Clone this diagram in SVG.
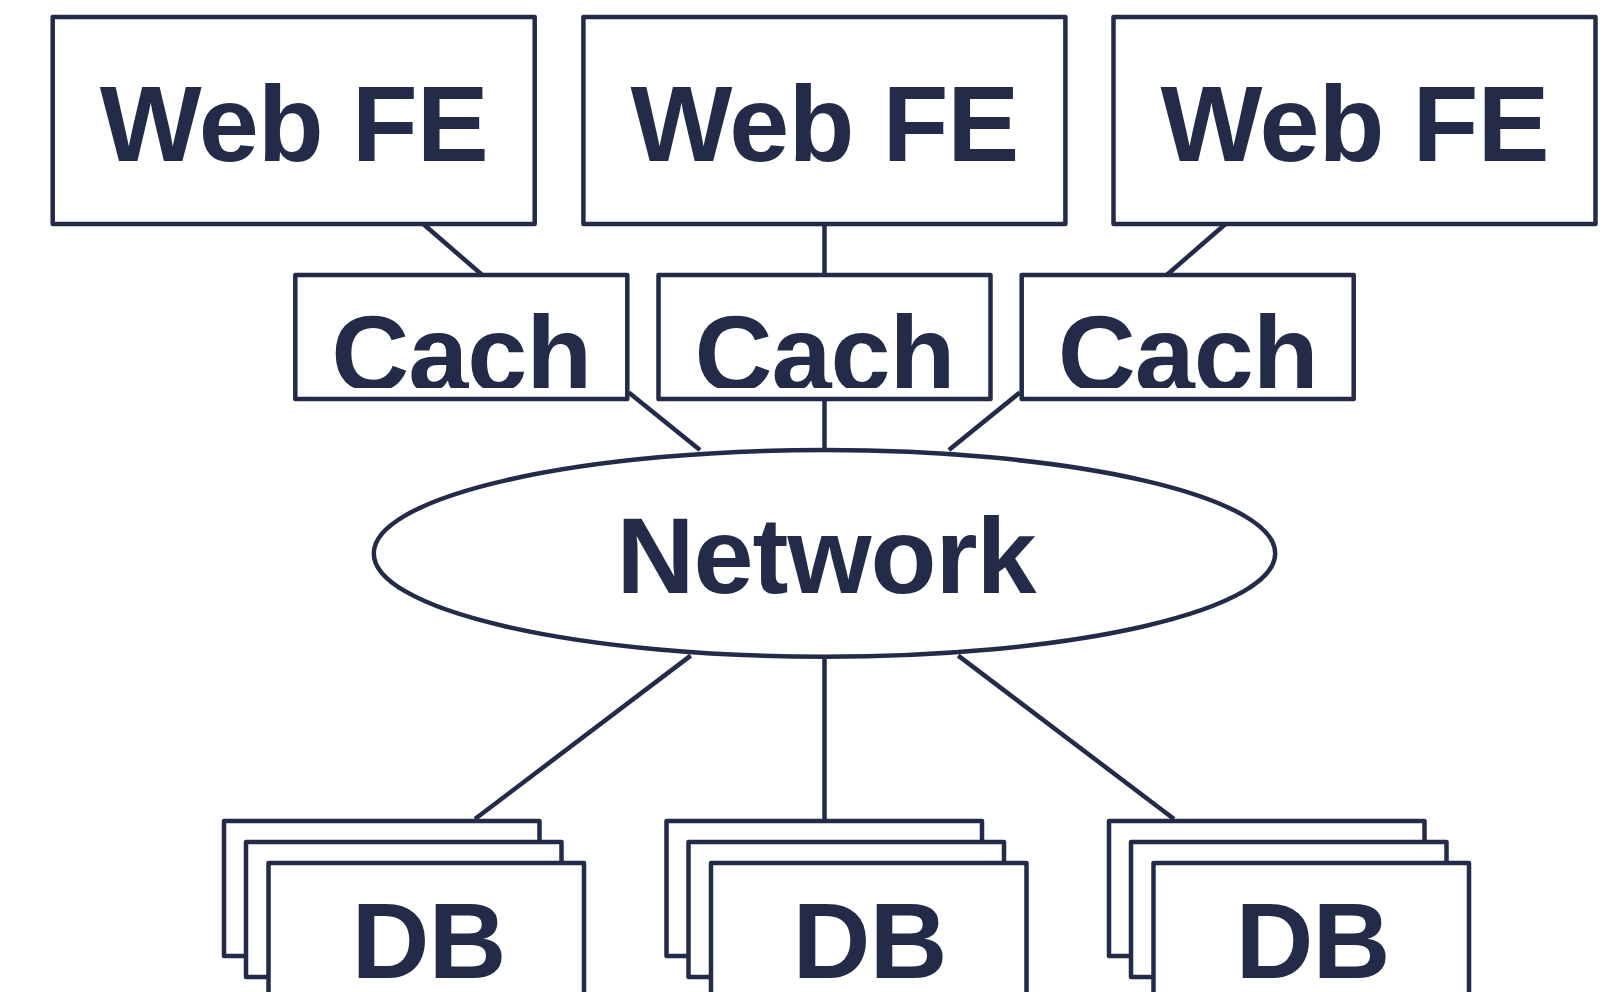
<svg xmlns="http://www.w3.org/2000/svg" width="1619" height="992" viewBox="0 0 1619 992">
  <style>
    .box { fill: #ffffff; stroke: #232b49; stroke-width: 4.5; stroke-linejoin: round; }
    .link { stroke: #232b49; stroke-width: 4.5; fill: none; }
    .label { font-family: "Liberation Sans", Arial, Helvetica, sans-serif; font-weight: bold; font-size: 108px; letter-spacing: -1px; fill: #232b49; text-anchor: middle; }
  </style>
  <defs>
    <!-- cache labels are cut off at the lower edge of their text area -->
    <clipPath id="cache-text-clip" clipPathUnits="userSpaceOnUse">
      <rect x="0" y="0" width="1619" height="388"/>
    </clipPath>
  </defs>
  <rect width="1619" height="992" fill="#ffffff"/>

  <g id="connectors">
    <line class="link" x1="423.3" y1="224" x2="482.2" y2="275"/>
    <line class="link" x1="824.5" y1="224" x2="824.5" y2="275"/>
    <line class="link" x1="1225.5" y1="224" x2="1166.7" y2="275"/>
    <line class="link" x1="628.8" y1="392.4" x2="700" y2="450"/>
    <line class="link" x1="824.5" y1="399" x2="824.5" y2="450"/>
    <line class="link" x1="1020" y1="392.4" x2="948.9" y2="450"/>
    <line class="link" x1="690.7" y1="655.6" x2="475" y2="819"/>
    <line class="link" x1="824.5" y1="656.7" x2="824.5" y2="821"/>
    <line class="link" x1="958.2" y1="655.6" x2="1174" y2="819"/>
  </g>

  <g id="web-fe-1">
    <rect class="box" x="52.7" y="17" width="482" height="207"/>
    <text class="label" x="293.7" y="161">Web FE</text>
  </g>
  <g id="web-fe-2">
    <rect class="box" x="583.4" y="17" width="482" height="207"/>
    <text class="label" x="824.4" y="161">Web FE</text>
  </g>
  <g id="web-fe-3">
    <rect class="box" x="1113.5" y="17" width="482" height="207"/>
    <text class="label" x="1354.5" y="161">Web FE</text>
  </g>

  <g id="cache-1">
    <rect class="box" x="295.3" y="275" width="332" height="124"/>
    <text class="label" x="461.3" y="391" clip-path="url(#cache-text-clip)">Cach</text>
  </g>
  <g id="cache-2">
    <rect class="box" x="658.5" y="275" width="332" height="124"/>
    <text class="label" x="824.5" y="391" clip-path="url(#cache-text-clip)">Cach</text>
  </g>
  <g id="cache-3">
    <rect class="box" x="1021.7" y="275" width="332" height="124"/>
    <text class="label" x="1187.7" y="391" clip-path="url(#cache-text-clip)">Cach</text>
  </g>

  <g id="network">
    <ellipse class="box" cx="824.5" cy="553.4" rx="450.7" ry="103.3"/>
    <text class="label" x="826" y="593">Network</text>
  </g>

  <g id="db-1">
    <rect class="box" x="224" y="821" width="315.5" height="135"/>
    <rect class="box" x="246" y="842" width="315.5" height="135"/>
    <rect class="box" x="268.5" y="863" width="315.5" height="135"/>
    <text class="label" x="428.6" y="978">DB</text>
  </g>
  <g id="db-2">
    <rect class="box" x="666.5" y="821" width="315.5" height="135"/>
    <rect class="box" x="688.5" y="842" width="315.5" height="135"/>
    <rect class="box" x="711" y="863" width="315.5" height="135"/>
    <text class="label" x="869.4" y="978">DB</text>
  </g>
  <g id="db-3">
    <rect class="box" x="1109" y="821" width="315.5" height="135"/>
    <rect class="box" x="1131" y="842" width="315.5" height="135"/>
    <rect class="box" x="1153.5" y="863" width="315.5" height="135"/>
    <text class="label" x="1312.5" y="978">DB</text>
  </g>
</svg>
